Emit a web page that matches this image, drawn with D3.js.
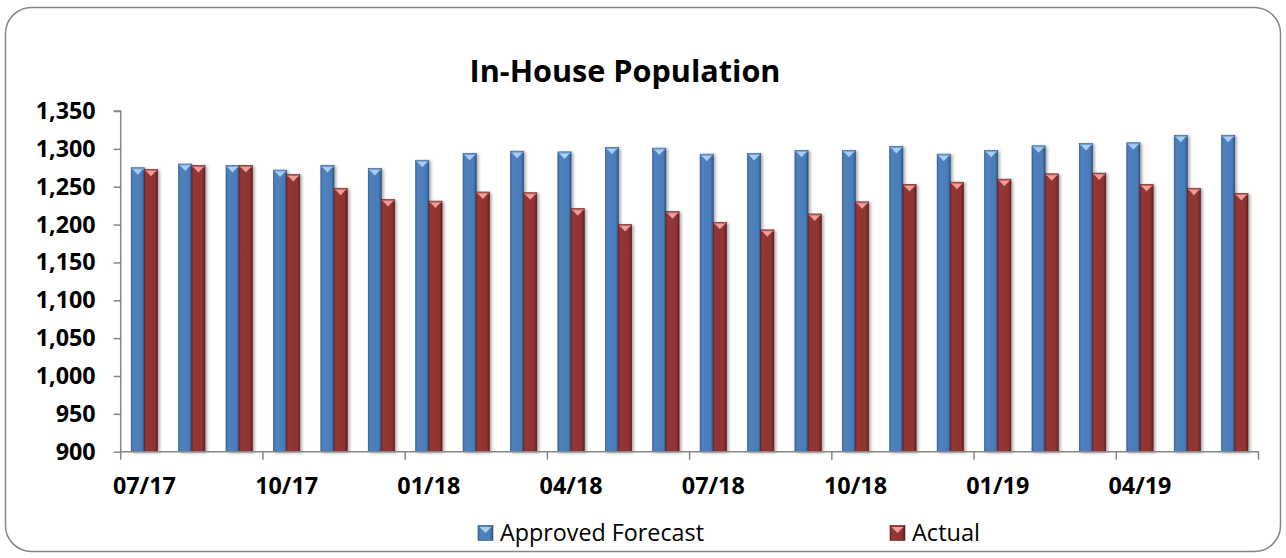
<!DOCTYPE html>
<html>
<head>
<meta charset="utf-8">
<script src="https://cdn.jsdelivr.net/npm/d3@7"></script>
<style>
  html, body { margin: 0; padding: 0; background: #ffffff; }
  svg { display: block; }
  text { font-family: "Open Sans", "Noto Sans", sans-serif; fill: #000; }
</style>
</head>
<body>
<svg id="chart" width="1286" height="558"></svg>
<script>
// ---- Data ----
const months = ["07/17","08/17","09/17","10/17","11/17","12/17",
                "01/18","02/18","03/18","04/18","05/18","06/18",
                "07/18","08/18","09/18","10/18","11/18","12/18",
                "01/19","02/19","03/19","04/19","05/19","06/19"];
const forecast = [1275,1280,1278,1272,1278,1274,1285,1294,1297,1296,1302,1301,
                  1293,1294,1298,1298,1303,1293,1298,1304,1307,1308,1318,1318];
const actual   = [1273,1278,1278,1266,1248,1233,1231,1243,1242,1221,1200,1217,
                  1203,1193,1214,1230,1253,1256,1260,1267,1268,1253,1248,1241];
const seriesNames = ["Approved Forecast","Actual"];
const yTicks = [900,950,1000,1050,1100,1150,1200,1250,1300,1350];
const xLabelEvery = 3;
const titleText = "In-House Population";

// ---- Layout ----
const W = 1286, H = 558;
const plot = {left: 120.7, right: 1258.5, top: 111, bottom: 451.7};
const svg = d3.select("#chart");

// outer rounded frame
svg.append("rect")
  .attr("x", 5.5).attr("y", 7.5).attr("width", 1275).attr("height", 544)
  .attr("rx", 26).attr("ry", 26)
  .attr("fill", "#fff").attr("stroke", "#868686").attr("stroke-width", 1.5);

// defs: gradients + shadow
const defs = svg.append("defs");
const palettes = [
  {id: "gBlue", edgeL: "#3a679c", body: "#4f81bd", body2: "#4a7cb8", edgeR: "#2c5283", cap: "#a9cdf5", capEdge: "#6f9fd8"},
  {id: "gRed",  edgeL: "#7a2a28", body: "#953735", body2: "#8f3331", edgeR: "#5f1f1d", cap: "#ef9e9c", capEdge: "#c0605e"}
];
palettes.forEach(p => {
  const g = defs.append("linearGradient").attr("id", p.id)
    .attr("x1", "0%").attr("x2", "100%").attr("y1", "0%").attr("y2", "0%");
  g.append("stop").attr("offset", "0%").attr("stop-color", p.edgeL);
  g.append("stop").attr("offset", "14%").attr("stop-color", p.body);
  g.append("stop").attr("offset", "80%").attr("stop-color", p.body2);
  g.append("stop").attr("offset", "100%").attr("stop-color", p.edgeR);
});
const f = defs.append("filter").attr("id", "shadow")
  .attr("x", "-50%").attr("y", "-10%").attr("width", "200%").attr("height", "130%");
f.append("feDropShadow").attr("dx", 1.8).attr("dy", 1).attr("stdDeviation", 1.4)
  .attr("flood-color", "#000").attr("flood-opacity", 0.35);

// ---- Scales ----
const x = d3.scaleBand().domain(months).range([plot.left, plot.right]).paddingInner(0).paddingOuter(0);
const xs = d3.scaleBand().domain(seriesNames).range([0, x.bandwidth()]).paddingInner(0).paddingOuter(0.795);
const y = d3.scaleLinear().domain([900, 1350]).range([plot.bottom, plot.top]);

// ---- Title ----
function fitSize(sel, target) {
  const w = sel.node().getComputedTextLength();
  const fs = parseFloat(sel.attr("font-size"));
  sel.attr("font-size", fs * target / w);
}
const title = svg.append("text").attr("x", 625).attr("y", 82)
  .attr("text-anchor", "middle").attr("font-weight", "bold").attr("font-size", 26)
  .text(titleText);
fitSize(title, 311);

// ---- Y axis ----
const yAxis = d3.axisLeft(y).tickValues(yTicks).tickFormat(d3.format(",")).tickSize(7).tickPadding(18);
const gy = svg.append("g").attr("transform", `translate(${plot.left},0)`).call(yAxis);
gy.select(".domain").attr("stroke", "#868686").attr("stroke-width", 1.5)
  .attr("d", `M-7,${plot.top}H0V${plot.bottom}`);
gy.selectAll(".tick line").attr("stroke", "#868686").attr("stroke-width", 1.5);
gy.selectAll(".tick text").attr("font-weight", "bold").attr("font-size", 22)
  .attr("font-family", "'Open Sans', sans-serif").attr("fill", "#000");
// fit y labels to reference width (~60px for "1,350")
{
  const t = gy.selectAll(".tick text").filter(d => d === 1350);
  const w = t.node().getComputedTextLength();
  const fs = 22 * 60 / w;
  gy.selectAll(".tick text").attr("font-size", fs);
}

// ---- Bars ----
const data = months.map((m, i) => ({m, vals: [forecast[i], actual[i]]}));
const groups = svg.append("g").selectAll("g.grp").data(data).join("g")
  .attr("class", "grp").attr("transform", d => `translate(${x(d.m)},0)`);
const bw = xs.bandwidth();
groups.each(function(d) {
  const g = d3.select(this);
  seriesNames.forEach((s, k) => {
    const v = d.vals[k];
    const p = palettes[k];
    const bx = xs(s), top = y(v), h = y(900) - y(v);
    const b = g.append("g").attr("filter", "url(#shadow)");
    b.append("rect").attr("x", bx).attr("y", top).attr("width", bw).attr("height", h)
      .attr("fill", `url(#${p.id})`).attr("stroke", p.edgeR).attr("stroke-width", 0.6);
    // top bevel
    b.append("rect").attr("x", bx + 0.5).attr("y", top + 0.3).attr("width", bw - 1).attr("height", 1.8)
      .attr("fill", p.capEdge);
    b.append("path")
      .attr("d", `M${bx + 1.5},${top + 1.5}L${bx + bw - 1.5},${top + 1.5}L${bx + bw / 2},${top + 7}Z`)
      .attr("fill", p.cap);
  });
});

// ---- X axis ----
svg.append("line").attr("x1", plot.left).attr("x2", plot.right)
  .attr("y1", plot.bottom).attr("y2", plot.bottom)
  .attr("stroke", "#868686").attr("stroke-width", 1.5);
const boundaries = d3.range(0, months.length + 1, xLabelEvery);
svg.append("g").selectAll("line").data(boundaries).join("line")
  .attr("x1", i => i < months.length ? x(months[i]) : plot.right)
  .attr("x2", i => i < months.length ? x(months[i]) : plot.right)
  .attr("y1", plot.bottom).attr("y2", plot.bottom + 8)
  .attr("stroke", "#868686").attr("stroke-width", 1.5);
const labelMonths = months.filter((m, i) => i % xLabelEvery === 0);
const xl = svg.append("g").selectAll("text").data(labelMonths).join("text")
  .attr("x", m => x(m) + x.bandwidth() / 2).attr("y", 486)
  .attr("dy", "0.35em").attr("text-anchor", "middle")
  .attr("font-weight", "bold").attr("font-size", 22).text(m => m);
{
  const w = xl.nodes()[0].getComputedTextLength();
  xl.attr("font-size", 22 * 63 / w);
}

// ---- Legend ----
const legendItems = [
  {name: seriesNames[0], p: palettes[0], ix: 478, tx: 500, tw: 204},
  {name: seriesNames[1], p: palettes[1], ix: 890, tx: 912, tw: 68}
];
const lg = svg.append("g");
legendItems.forEach(it => {
  const cy = 533;
  lg.append("rect").attr("x", it.ix).attr("y", cy - 7.5).attr("width", 15).attr("height", 15)
    .attr("fill", `url(#${it.p.id})`).attr("stroke", it.p.edgeR).attr("stroke-width", 0.6);
  lg.append("path")
    .attr("d", `M${it.ix + 1.5},${cy - 6}L${it.ix + 13.5},${cy - 6}L${it.ix + 7.5},${cy}Z`)
    .attr("fill", it.p.cap);
  const t = lg.append("text").attr("x", it.tx).attr("y", cy).attr("dy", "0.35em")
    .attr("font-size", 22).text(it.name);
  fitSize(t, it.tw);
});
</script>
</body>
</html>
